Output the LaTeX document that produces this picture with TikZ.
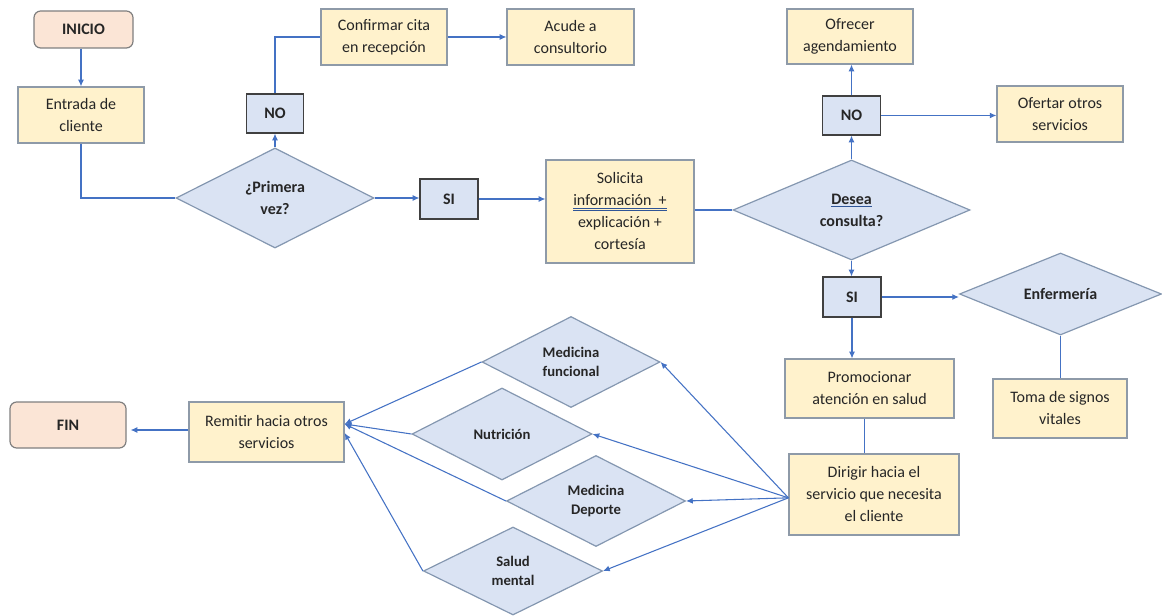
\documentclass[tikz,border=0pt]{standalone}
\usepackage{fontspec}
\setmainfont{Carlito}
\usetikzlibrary{shapes.geometric,arrows.meta}
\definecolor{yfill}{HTML}{FFF2CC}
\definecolor{ydraw}{HTML}{8E9AA8}
\definecolor{pfill}{HTML}{FBE5D6}
\definecolor{pdraw}{HTML}{7F7F7F}
\definecolor{bfill}{HTML}{DAE3F3}
\definecolor{ddraw}{HTML}{8497B0}
\definecolor{yndraw}{HTML}{404040}
\definecolor{cblue}{HTML}{4472C4}
\definecolor{ulblue}{HTML}{2F5597}
\definecolor{txt}{HTML}{262626}
\newsavebox\ulbox
\newcommand\blueul[1]{\sbox\ulbox{#1}\rlap{\textcolor{ulblue}{\rule[-2.2pt]{\wd\ulbox}{0.6pt}}}\usebox\ulbox}
\newcommand\dblul[1]{\sbox\ulbox{#1}\rlap{\textcolor{ulblue}{\rule[-1.8pt]{\wd\ulbox}{0.5pt}}}\rlap{\textcolor{ulblue}{\rule[-3.3pt]{\wd\ulbox}{0.5pt}}}\usebox\ulbox}
\begin{document}
\begin{tikzpicture}[x=0.75pt,y=-0.75pt,
  ybox/.style={draw=ydraw, fill=yfill, line width=0.9pt, align=center, inner sep=2pt, text=txt, font=\fontsize{12}{16.5}\selectfont},
  peach/.style={rounded corners=5pt, draw=pdraw, fill=pfill, line width=0.9pt, text=txt, font=\bfseries\fontsize{12}{16.5}\selectfont},
  yn/.style={draw=yndraw, fill=bfill, line width=0.9pt, text=txt, font=\bfseries\fontsize{12}{16.5}\selectfont},
  dia/.style={diamond, shape aspect=2, inner sep=0pt, draw=ddraw, fill=bfill, line width=0.9pt, align=center, text=txt, font=\bfseries\fontsize{12}{16.5}\selectfont},
  sdia/.style={dia, font=\bfseries\fontsize{11}{14.25}\selectfont},
  arr/.style={draw=cblue, line width=0.8pt, -{Latex[length=5pt,width=4.5pt]}},
  ln/.style={draw=cblue, line width=0.8pt}]
\useasboundingbox (0,0) rectangle (1162,616);

% nodes
\node[peach, minimum width=74.25pt, minimum height=27.75pt] (inicio) at (83.5,29.5) {INICIO};
\node[ybox, minimum width=94.5pt, minimum height=42pt] (entrada) at (81,115) {Entrada de\\cliente};
\node[dia, minimum width=148.5pt, minimum height=75pt] (primera) at (275,198) {¿Primera\\vez?};
\node[yn, minimum width=42.75pt, minimum height=29.25pt] (no1) at (275,113.5) {NO};
\node[ybox, minimum width=94.5pt, minimum height=42pt] (confirmar) at (384,37) {Confirmar cita\\en recepción};
\node[ybox, minimum width=95.25pt, minimum height=42pt] (acude) at (570.5,37) {Acude a\\consultorio};
\node[yn, minimum width=43.5pt, minimum height=30pt] (si1) at (449,199) {SI};
\node[ybox, minimum width=111pt, minimum height=77.25pt] (solicita) at (620,211.5) {Solicita\\\dblul{información\ \ +}\\explicación +\\cortesía};
\node[dia, minimum width=177.75pt, minimum height=75pt] (desea) at (851.5,210) {\blueul{Desea}\\consulta?};
\node[yn, minimum width=43.5pt, minimum height=29.25pt] (no2) at (851.5,115.5) {NO};
\node[ybox, minimum width=94.5pt, minimum height=41.25pt] (ofrecer) at (850,36.5) {Ofrecer\\agendamiento};
\node[ybox, minimum width=94.5pt, minimum height=42pt] (ofertar) at (1060,114) {Ofertar otros\\servicios};
\node[yn, minimum width=43.5pt, minimum height=30pt] (si2) at (852,297) {SI};
\node[dia, minimum width=151.5pt, minimum height=61.5pt] (enfermeria) at (1060.5,294) {Enfermería};
\node[ybox, minimum width=126.75pt, minimum height=44.25pt] (promocionar) at (869.5,388.5) {Promocionar\\atención en salud};
\node[ybox, minimum width=100.5pt, minimum height=44.25pt] (toma) at (1060,408.5) {Toma de signos\\vitales};
\node[ybox, minimum width=127.5pt, minimum height=60.75pt] (dirigir) at (874,494.5) {Dirigir hacia el\\servicio que necesita\\el cliente};
\node[sdia, minimum width=133.5pt, minimum height=68.25pt] (medfun) at (571,362) {Medicina\\funcional};
\node[sdia, minimum width=135pt, minimum height=69pt] (nutri) at (502,434) {Nutrición};
\node[sdia, minimum width=134.25pt, minimum height=68.25pt] (meddep) at (596,501) {Medicina\\Deporte};
\node[sdia, minimum width=134.25pt, minimum height=66pt] (salud) at (513,571) {Salud\\mental};
\node[ybox, minimum width=116.25pt, minimum height=45pt] (remitir) at (266.5,432) {Remitir hacia otros\\servicios};
\node[peach, minimum width=87pt, minimum height=34.5pt] (fin) at (68,425) {FIN};

% connectors
\draw[arr] (entrada.north |- inicio.south) -- (entrada.north);
\draw[ln] (entrada.south) |- (primera.west);
\draw[arr] (primera.north) -- (no1.south);
\draw[ln] (no1.north) |- (confirmar.west);
\draw[arr] (confirmar.east) -- (acude.west);
\draw[arr] (primera.east) -- (primera.east -| si1.west);
\draw[arr] (si1.east) -- (si1.east -| solicita.west);
\draw[ln] (solicita.east |- desea.west) -- (desea.west);
\draw[arr] (desea.north) -- (no2.south);
\draw[arr] (no2.north) -- (no2.north |- ofrecer.south);
\draw[arr] (no2.east) -- (no2.east -| ofertar.west);
\draw[arr] (desea.south) -- (desea.south |- si2.north);
\draw[arr] (si2.east) -- (si2.east -| enfermeria.west);
\draw[arr] (si2.south) -- (si2.south |- promocionar.north);
\draw[ln] ([xshift=-4pt]promocionar.south) -- ([xshift=-4pt]promocionar.south |- dirigir.north);
\draw[ln] (enfermeria.south) -- (enfermeria.south |- toma.north);

\coordinate (dsrc) at ([yshift=-2.5pt]dirigir.west);
\draw[arr] (dsrc) -- (medfun.east);
\draw[arr] (dsrc) -- (nutri.east);
\draw[arr] (dsrc) -- (meddep.east);
\draw[arr] (dsrc) -- (salud.east);

\coordinate (r1) at ([yshift=6pt]remitir.east);
\coordinate (r2) at ([yshift=-0.75pt]remitir.east);
\draw[arr] (medfun.west) -- (r1);
\draw[arr] (nutri.west) -- (r1);
\draw[arr] (meddep.west) -- (r1);
\draw[arr] (salud.west) -- (r2);

\draw[arr, shorten >=3pt] ([yshift=1.5pt]remitir.west) -- ([yshift=1.5pt]remitir.west -| fin.east);
\end{tikzpicture}
\end{document}
